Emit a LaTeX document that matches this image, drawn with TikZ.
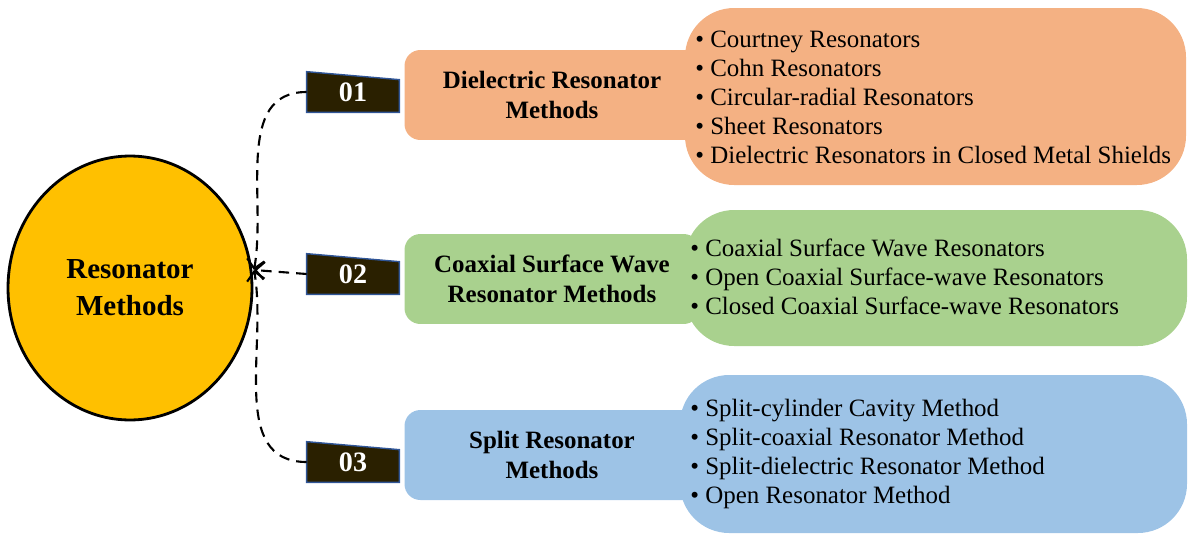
\documentclass[tikz,border=0pt]{standalone}
\usepackage{fontspec}
\setmainfont{Liberation Serif}
\usetikzlibrary{calc,positioning,shapes.geometric,arrows.meta}
\pgfdeclarelayer{background}
\pgfsetlayers{background,main}
\definecolor{orangebox}{HTML}{F4B183}
\definecolor{greenbox}{HTML}{A9D18E}
\definecolor{bluebox}{HTML}{9DC3E6}
\definecolor{tagfill}{HTML}{2A2000}
\definecolor{tagline}{HTML}{2F5597}
\definecolor{gold}{HTML}{FFC000}

\begin{document}
\begin{tikzpicture}[x=0.02cm, y=-0.02cm,
  method/.style={rounded corners=9pt, minimum width=5.9cm, minimum height=1.8cm, align=center, font=\fontsize{14.2}{17}\selectfont\bfseries},
  bubble/.style={rounded corners=28pt},
  items/.style={anchor=west, align=left, font=\fontsize{14.2}{16.5}\selectfont, inner sep=0pt},
  tag/.style={minimum width=1.84cm, minimum height=0.8cm, inner sep=0pt, text=white, font=\fontsize{16}{16}\selectfont\bfseries},
  link/.style={line width=1.2pt, dash pattern=on 6pt off 4pt, -{Straight Barb[length=5pt,width=10pt]}}]
\useasboundingbox (0,0) rectangle (1200,545);

% central node
\node[ellipse, draw, line width=1.6pt, fill=gold, minimum width=4.88cm, minimum height=5.28cm, align=center,
  font=\fontsize{16.5}{21}\selectfont\bfseries] (res) at (130,288) {Resonator\\Methods};
\coordinate (tip) at (254,270);

% orange group
\fill[orangebox, bubble] (685,8) rectangle (1186,185);
\node[method, fill=orangebox] (m1) at (552,95) {Dielectric Resonator\\Methods};
\node[items] (l1) at (695,97) {\textbullet{} Courtney Resonators\\ \textbullet{} Cohn Resonators\\ \textbullet{} Circular-radial Resonators\\ \textbullet{} Sheet Resonators\\ \textbullet{} Dielectric Resonators in Closed Metal Shields};

% green group
\fill[greenbox, bubble] (685,210) rectangle (1187,346);
\node[method, fill=greenbox] (m2) at (552,279) {Coaxial Surface Wave\\Resonator Methods};
\node[items] (l2) at (690,277) {\textbullet{} Coaxial Surface Wave Resonators\\ \textbullet{} Open Coaxial Surface-wave Resonators\\ \textbullet{} Closed Coaxial Surface-wave Resonators};

% blue group
\fill[bluebox, bubble] (680,375) rectangle (1187,533);
\node[method, fill=bluebox] (m3) at (552,455) {Split Resonator\\Methods};
\node[items] (l3) at (690,454) {\textbullet{} Split-cylinder Cavity Method\\ \textbullet{} Split-coaxial Resonator Method\\ \textbullet{} Split-dielectric Resonator Method\\ \textbullet{} Open Resonator Method};

% number tags
\foreach \n/\y in {1/92, 2/274, 3/462} {
  \node[tag] (t\n) at (353,\y) {0\n};
  \begin{pgfonlayer}{background}
    \filldraw[fill=tagfill, draw=tagline, thick] (t\n.south west) -- (t\n.north west)
      -- ($(t\n.north east)+(0,8)$) -- (t\n.south east) -- cycle;
  \end{pgfonlayer}
}

% links
\draw[link] (t1.west) to[out=180, in=80] (tip);
\draw[link] (t2.west) -- (tip);
\draw[link] (t3.west) to[out=180, in=-80] (tip);
\end{tikzpicture}
\end{document}
